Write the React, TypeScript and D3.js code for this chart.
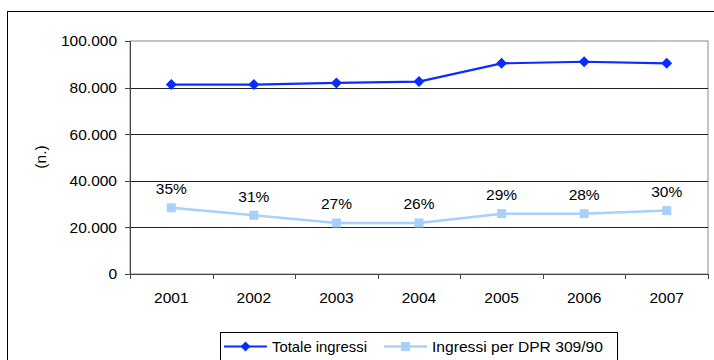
import React from "react";
import * as d3 from "d3";

const years = ["2001", "2002", "2003", "2004", "2005", "2006", "2007"];
const totale = [81300, 81300, 82000, 82600, 90400, 91100, 90400];
const dpr = [28400, 25200, 21900, 21900, 25900, 25900, 27200];
const pctLabels = ["35%", "31%", "27%", "26%", "29%", "28%", "30%"];
const yTicks = [0, 20000, 40000, 60000, 80000, 100000];

const W = 714;
const H = 360;
const left = 130;
const right = 708;
const top = 41;
const bottom = 274;

const fmt = (v: number) => (v === 0 ? "0" : d3.format(",.3f")(v / 1000).replace(",", "."));

export default function App() {
  const x = d3.scaleBand<string>().domain(years).range([left, right]);
  const y = d3.scaleLinear().domain([0, 100000]).range([bottom, top]);
  const cx = (d: string) => (x(d) as number) + x.bandwidth() / 2;
  const line = d3
    .line<number>()
    .x((_, i) => cx(years[i]))
    .y((v) => y(v));
  const font = "'Liberation Sans', Arial, sans-serif";
  const diamond = (px: number, py: number, s = 5.5) =>
    `M${px},${py - s}L${px + s},${py}L${px},${py + s}L${px - s},${py}Z`;
  const blue = "#0a2cff";
  const light = "#a8d0fa";
  const xTickPos = years.map((d) => x(d) as number).concat([right]);
  const fs = 15.5;

  return (
    <svg
      width={W}
      height={H}
      style={{ position: "absolute", left: 0, top: 0, background: "#fff" }}
      fontFamily={font}
    >
      <rect x={7.5} y={11.5} width={800} height={400} fill="#fff" stroke="#000" strokeWidth={1} />
      <rect x={left} y={top} width={right - left} height={bottom - top} fill="none" stroke="#8c8c8c" strokeWidth={1} />
      {yTicks.slice(1, -1).map((t) => (
        <line key={t} x1={left} x2={right} y1={Math.round(y(t)) + 0.5} y2={Math.round(y(t)) + 0.5} stroke="#222" strokeWidth={1} />
      ))}
      <line x1={left + 0.5} x2={left + 0.5} y1={top} y2={bottom + 5} stroke="#444" strokeWidth={1} />
      <line x1={left - 5} x2={right} y1={bottom + 0.5} y2={bottom + 0.5} stroke="#444" strokeWidth={1} />
      {yTicks.map((t) => (
        <g key={t}>
          <line x1={left - 5} x2={left} y1={Math.round(y(t)) + 0.5} y2={Math.round(y(t)) + 0.5} stroke="#444" />
          <text x={117} y={y(t)} dy="0.35em" textAnchor="end" fontSize={fs} fill="#000">
            {fmt(t)}
          </text>
        </g>
      ))}
      {xTickPos.map((p, i) => (
        <line key={i} x1={Math.round(p) + 0.5} x2={Math.round(p) + 0.5} y1={bottom} y2={bottom + 5} stroke="#444" />
      ))}
      {years.map((d) => (
        <text key={d} x={cx(d)} y={298} dy="0.35em" textAnchor="middle" fontSize={fs} fill="#000">
          {d}
        </text>
      ))}
      <text transform={`translate(41,157) rotate(-90)`} textAnchor="middle" dy="0.35em" fontSize={fs} fill="#000">
        (n.)
      </text>
      <path d={line(dpr) || ""} fill="none" stroke={light} strokeWidth={2.5} />
      {dpr.map((v, i) => (
        <rect key={i} x={cx(years[i]) - 4.5} y={y(v) - 4.5} width={9} height={9} fill={light} />
      ))}
      {dpr.map((v, i) => (
        <text key={i} x={cx(years[i])} y={y(v) - 19} dy="0.35em" textAnchor="middle" fontSize={fs} fill="#000">
          {pctLabels[i]}
        </text>
      ))}
      <path d={line(totale) || ""} fill="none" stroke={blue} strokeWidth={2.2} />
      {totale.map((v, i) => (
        <path key={i} d={diamond(cx(years[i]), y(v))} fill={blue} />
      ))}
      <rect x={220.5} y={332.5} width={397} height={40} fill="#fff" stroke="#000" strokeWidth={1} />
      <line x1={224} x2={267} y1={346.5} y2={346.5} stroke={blue} strokeWidth={2} />
      <path d={diamond(245.5, 346.5, 5)} fill={blue} />
      <text x={272} y={346.5} dy="0.35em" fontSize={15} fill="#000" textLength={95} lengthAdjust="spacingAndGlyphs">
        Totale ingressi
      </text>
      <line x1={384} x2={427} y1={346.5} y2={346.5} stroke={light} strokeWidth={2.5} />
      <rect x={401} y={342} width={9} height={9} fill={light} />
      <text x={432} y={346.5} dy="0.35em" fontSize={15} fill="#000" textLength={171} lengthAdjust="spacingAndGlyphs">
        Ingressi per DPR 309/90
      </text>
    </svg>
  );
}
